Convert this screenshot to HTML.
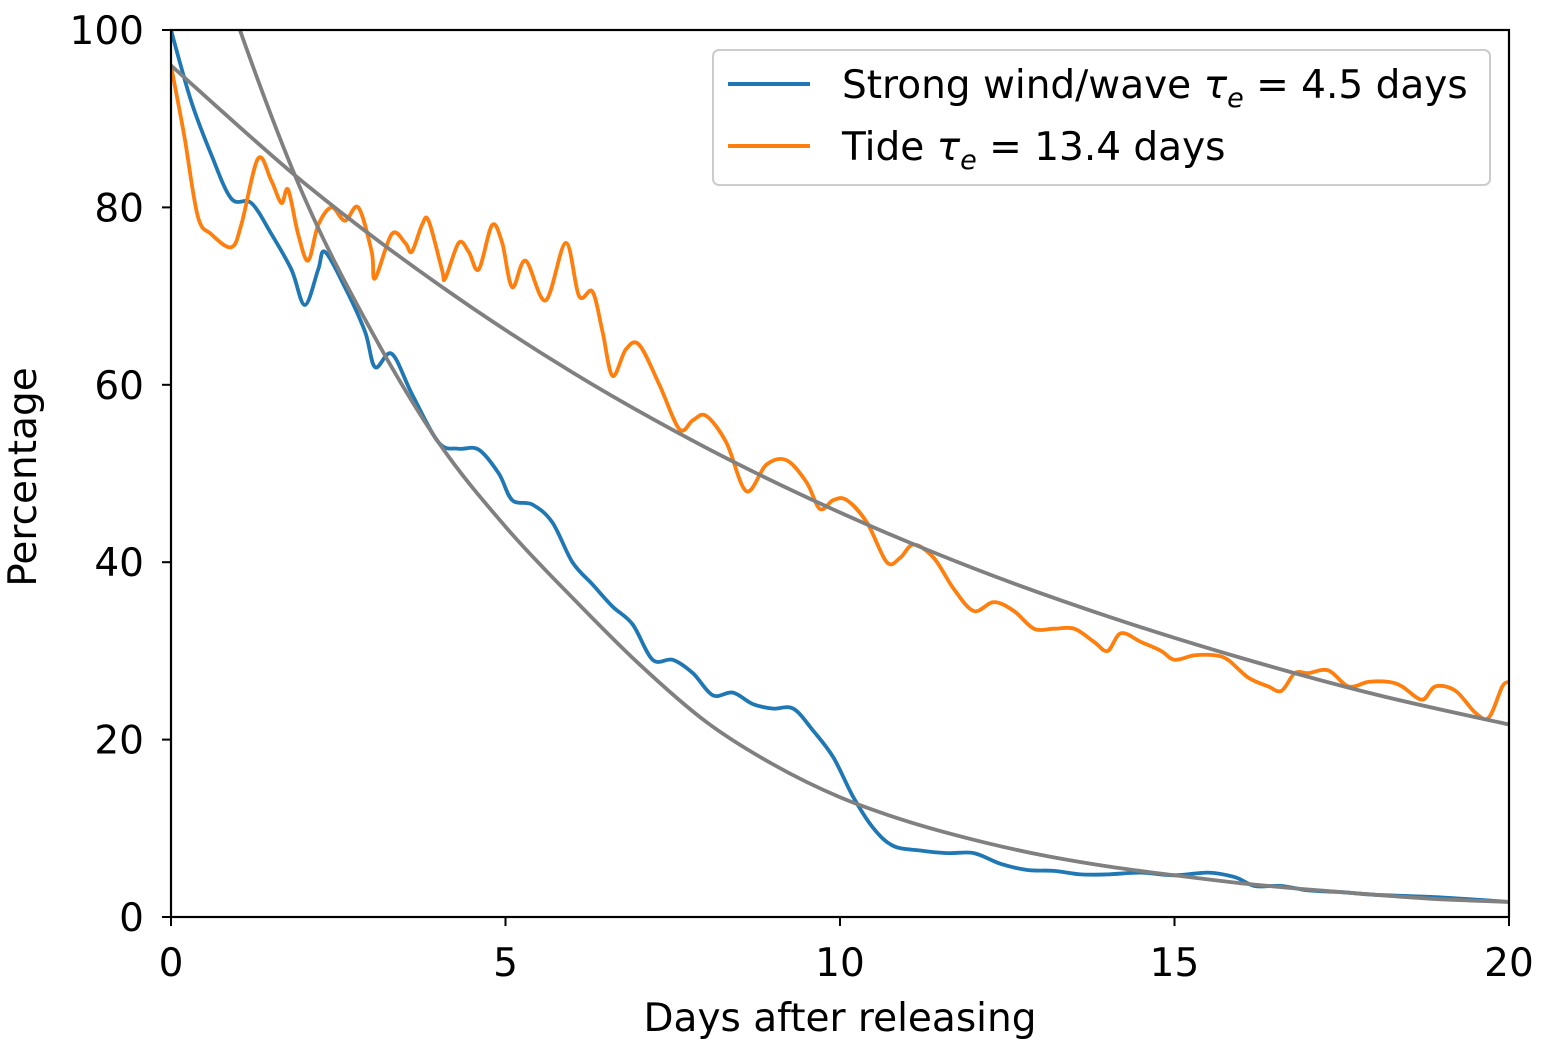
<!DOCTYPE html>
<html><head><meta charset="utf-8"><style>
body{margin:0;background:#fff}
svg{font-family:"DejaVu Sans","Liberation Sans",sans-serif}
</style></head><body>
<svg id="c" width="1546" height="1054" viewBox="0 0 1546 1054">
<defs><clipPath id="clip"><rect x="171" y="30" width="1338" height="887"/></clipPath></defs>
<g id="marks" clip-path="url(#clip)"></g>
<rect x="171" y="30" width="1338" height="887" fill="none" stroke="#000" stroke-width="2.2"/>
<g id="ticks"></g>
<text x="840" y="1031" font-size="39" text-anchor="middle">Days after releasing</text>
<text x="0" y="0" font-size="39" text-anchor="middle" transform="translate(36,477) rotate(-90)">Percentage</text>
<g>
<rect x="713" y="50" width="777" height="135" rx="6" fill="#fff" stroke="#ccc" stroke-width="2"/>
<g>
<line x1="728" y1="84" x2="810" y2="84" stroke="#1f77b4" stroke-width="4"/>
<text x="842" y="98" font-size="39">Strong wind/wave <tspan font-style="italic">τ</tspan><tspan font-style="italic" font-size="27" dy="9">e</tspan><tspan dy="-9"> = 4.5 days</tspan></text>
</g>
<g>
<line x1="728" y1="146" x2="810" y2="146" stroke="#ff7f0e" stroke-width="4"/>
<text x="842" y="160" font-size="39">Tide <tspan font-style="italic">τ</tspan><tspan font-style="italic" font-size="27" dy="9">e</tspan><tspan dy="-9"> = 13.4 days</tspan></text>
</g>
</g>
</svg>
<script>
const xTicks=[0,5,10,15,20];
const yTicks=[0,20,40,60,80,100];
const windT=[0,0.3,0.6,0.9,1.2,1.5,1.8,2,2.2,2.3,2.6,2.9,3.05,3.3,3.6,4,4.3,4.6,4.9,5.1,5.4,5.7,6,6.3,6.6,6.9,7.2,7.5,7.8,8.1,8.4,8.7,9,9.3,9.6,9.9,10.2,10.5,10.8,11.2,11.6,12,12.4,12.8,13.2,13.6,14,14.5,15,15.5,15.9,16.2,16.6,17,17.5,18,19,20];
const windV=[100,92,86,81,80.5,77,73,69,73,75,71,66,62,63.5,59,53.5,52.8,52.7,50,47,46.5,44.5,40,37.5,35,33,29,29,27.5,25,25.3,24,23.5,23.5,21,18,13.5,10,8,7.5,7.2,7.2,6,5.3,5.2,4.8,4.8,5,4.7,5,4.5,3.5,3.5,3,2.8,2.5,2.2,1.7];
const tideT=[0,0.2,0.4,0.6,0.9,1.05,1.3,1.5,1.65,1.75,1.9,2.05,2.2,2.4,2.6,2.8,3,3.05,3.3,3.5,3.6,3.75,3.85,4.05,4.1,4.3,4.45,4.6,4.8,4.95,5.1,5.3,5.6,5.9,6.1,6.3,6.45,6.6,6.8,7,7.3,7.6,7.8,8,8.3,8.6,8.9,9.2,9.5,9.7,9.9,10.1,10.4,10.7,10.9,11.1,11.4,11.7,12,12.3,12.6,12.9,13.2,13.5,13.8,14,14.2,14.5,14.8,15,15.3,15.6,15.8,16.1,16.4,16.6,16.8,17,17.3,17.6,17.9,18.2,18.4,18.7,18.9,19.2,19.5,19.7,19.9,20];
const tideV=[96,88,79,77,75.5,78,85.5,83,80.5,82,77,74,78,80,78.5,80,75,72,77,76,75,78,78.5,73,72,76,75,73,78,76,71,74,69.5,76,70,70.5,66,61,64,64.5,60,55,56,56.5,53.5,48,51,51.5,49,46,47,47,44.5,40,40.5,42,40.5,37,34.5,35.5,34.5,32.5,32.5,32.5,31,30,32,31,30,29,29.5,29.5,29,27,26,25.5,27.5,27.5,27.8,26,26.5,26.5,26,24.5,26,25.5,23,22.5,26,26.5];
const windFitT=[0.5,1.03,2,3,4,5,6,7,8,9,10,11,12,13,14,15,16,17,18,19,20];
const windFitV=[113,100,81,66,53.5,44,36,28.5,22,17.2,13.5,10.8,8.7,7,5.7,4.7,3.8,3.1,2.5,2,1.7];
const tideFitT=[0,2,4,6,8,10,12,14,16,18,20];
const tideFitV=[96,82.7,71.3,61.4,52.9,45.6,39.3,33.9,29.2,25.1,21.7];
const X=t=>171+t*(1338/20);
const Y=v=>917-v*(887/100);
const NS="http://www.w3.org/2000/svg";
const marks=document.getElementById('marks'),ticks=document.getElementById('ticks');
function smoothPath(ts,vs){
  const P=ts.map((t,i)=>[X(t),Y(vs[i])]);
  let d='M'+P[0][0].toFixed(1)+','+P[0][1].toFixed(1);
  for(let i=0;i<P.length-1;i++){
    const p0=P[i-1]||P[i],p1=P[i],p2=P[i+1],p3=P[i+2]||P[i+1];
    const c1=[p1[0]+(p2[0]-p0[0])/6,p1[1]+(p2[1]-p0[1])/6];
    const c2=[p2[0]-(p3[0]-p1[0])/6,p2[1]-(p3[1]-p1[1])/6];
    d+=' C'+c1.map(n=>n.toFixed(1)).join(',')+' '+c2.map(n=>n.toFixed(1)).join(',')+' '+p2.map(n=>n.toFixed(1)).join(',');
  }
  return d;
}
function line(ts,vs,color,name){
  const p=document.createElementNS(NS,'path');
  p.setAttribute('d',smoothPath(ts,vs));
  p.setAttribute('fill','none');p.setAttribute('stroke',color);p.setAttribute('stroke-width','3.8');
  p.setAttribute('stroke-linejoin','round');p.setAttribute('stroke-linecap','round');
  
  
  marks.appendChild(p);
}
line(windT,windV,'#1f77b4','wind-series-line');
line(tideT,tideV,'#ff7f0e','tide-series-line');
line(windFitT,windFitV,'#808080','wind-fit-curve');
line(tideFitT,tideFitV,'#808080','tide-fit-curve');
xTicks.forEach(t=>{
  const l=document.createElementNS(NS,'line');
  l.setAttribute('x1',X(t));l.setAttribute('x2',X(t));l.setAttribute('y1',917);l.setAttribute('y2',926);
  l.setAttribute('stroke','#000');l.setAttribute('stroke-width','2');
  
  
  ticks.appendChild(l);
  const s=document.createElementNS(NS,'text');
  s.setAttribute('x',X(t));s.setAttribute('y',976);s.setAttribute('font-size','39');s.setAttribute('text-anchor','middle');
  s.textContent=t;
  
  
  ticks.appendChild(s);
});
yTicks.forEach(v=>{
  const l=document.createElementNS(NS,'line');
  l.setAttribute('x1',162);l.setAttribute('x2',171);l.setAttribute('y1',Y(v));l.setAttribute('y2',Y(v));
  l.setAttribute('stroke','#000');l.setAttribute('stroke-width','2');
  
  
  ticks.appendChild(l);
  const s=document.createElementNS(NS,'text');
  s.setAttribute('x',144);s.setAttribute('y',Y(v)+14);s.setAttribute('font-size','39');s.setAttribute('text-anchor','end');
  s.textContent=v;
  
  
  ticks.appendChild(s);
});
</script>
</body></html>
